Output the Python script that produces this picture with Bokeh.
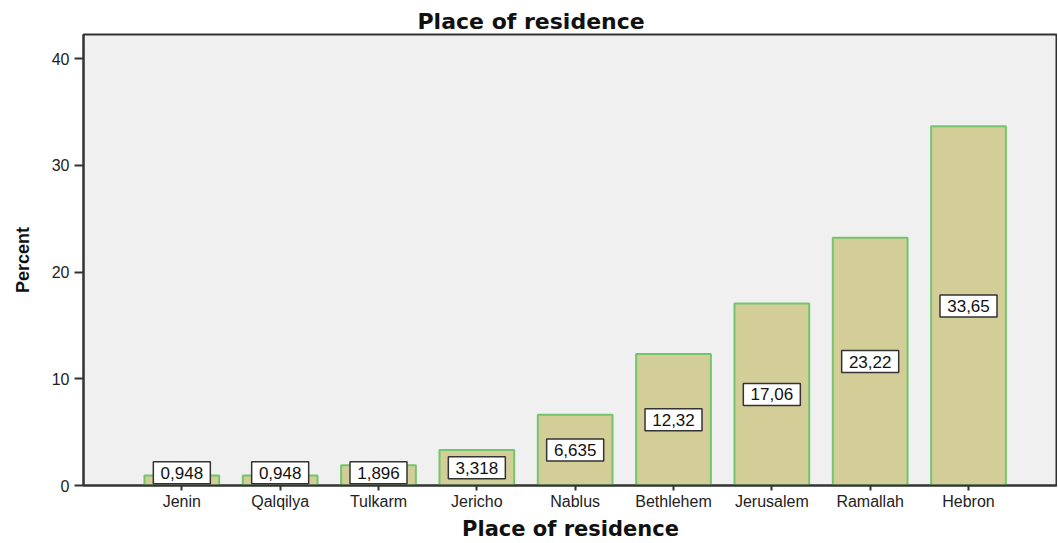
from bokeh.plotting import figure
from bokeh.models import Range1d, FixedTicker, ColumnDataSource
from bokeh.core.properties import value
from bokeh.embed import file_html
from bokeh.resources import INLINE

categories = ["Jenin", "Qalqilya", "Tulkarm", "Jericho", "Nablus",
              "Bethlehem", "Jerusalem", "Ramallah", "Hebron"]
percents = [0.948, 0.948, 1.896, 3.318, 6.635, 12.32, 17.06, 23.22, 33.65]
value_labels = ["0,948", "0,948", "1,896", "3,318", "6,635",
                "12,32", "17,06", "23,22", "33,65"]
y_ticks = [0, 10, 20, 30, 40]

xs = list(range(1, len(categories) + 1))
src = ColumnDataSource(dict(
    x=xs, top=percents, mid=[max(v / 2, 1.2) for v in percents],
    lab=value_labels))

p = figure(width=1057, height=543, output_backend="svg", toolbar_location=None,
           x_range=Range1d(0, 9.905), y_range=Range1d(0, 42.25),
           min_border_left=83, min_border_right=0, min_border_bottom=58,
           min_border_top=34)

p.title.text = "Place of residence"
p.title.align = "left"
p.title.offset = 334
p.title.text_font = "DejaVu Sans"
p.title.text_font_style = "bold"
p.title.text_font_size = "22px"
p.title.text_color = "#111111"
p.title.standoff = 2

p.background_fill_color = "#f0f0f0"
p.border_fill_color = "white"
p.outline_line_color = "#333333"
p.outline_line_width = 2
p.grid.visible = False

p.vbar(x="x", top="top", width=0.76, bottom=0, source=src,
       fill_color="#d3ce97", line_color="#74c46c", line_width=2)

p.rect(x="x", y="mid", width=57, height=22, width_units="screen",
       height_units="screen", source=src, fill_color="white",
       line_color="#333333", line_width=1.5)
p.text(x="x", y="mid", text="lab", source=src, text_align="center",
       text_baseline="middle", text_font=value("Liberation Sans"),
       text_font_size="17px", text_color="#111111")

p.xaxis.ticker = FixedTicker(ticks=xs)
p.xaxis.major_label_overrides = {x: c for x, c in zip(xs, categories)}
p.xaxis.axis_label = "Place of residence"
p.xaxis.axis_label_text_font = "DejaVu Sans"
p.xaxis.axis_label_text_font_style = "bold"
p.xaxis.axis_label_text_font_size = "21px"
p.xaxis.axis_label_standoff = 4
p.xaxis.major_label_text_font = "Liberation Sans"
p.xaxis.major_label_text_font_size = "16px"
p.xaxis.major_label_standoff = 2
p.xaxis.minor_tick_line_color = None
p.xaxis.major_tick_out = 5
p.xaxis.major_tick_in = 0

p.yaxis.ticker = FixedTicker(ticks=y_ticks)
p.yaxis.axis_label = "Percent"
p.yaxis.axis_label_text_font = "Liberation Sans Narrow, Liberation Sans"
p.yaxis.axis_label_text_font_style = "bold"
p.yaxis.axis_label_text_font_size = "18px"
p.yaxis.axis_label_standoff = 16
p.yaxis.major_label_text_font = "Liberation Sans"
p.yaxis.major_label_text_font_size = "16px"
p.yaxis.minor_tick_line_color = None
p.yaxis.major_tick_out = 9
p.yaxis.major_tick_in = 0

for ax in (p.xaxis, p.yaxis):
    ax.axis_line_color = "#333333"
    ax.axis_line_width = 2
    ax.major_tick_line_color = "#333333"
    ax.major_tick_line_width = 2
    ax.major_label_text_color = "#222222"
    ax.axis_label_text_color = "#111111"

open("out.html", "w").write(file_html(p, INLINE))
